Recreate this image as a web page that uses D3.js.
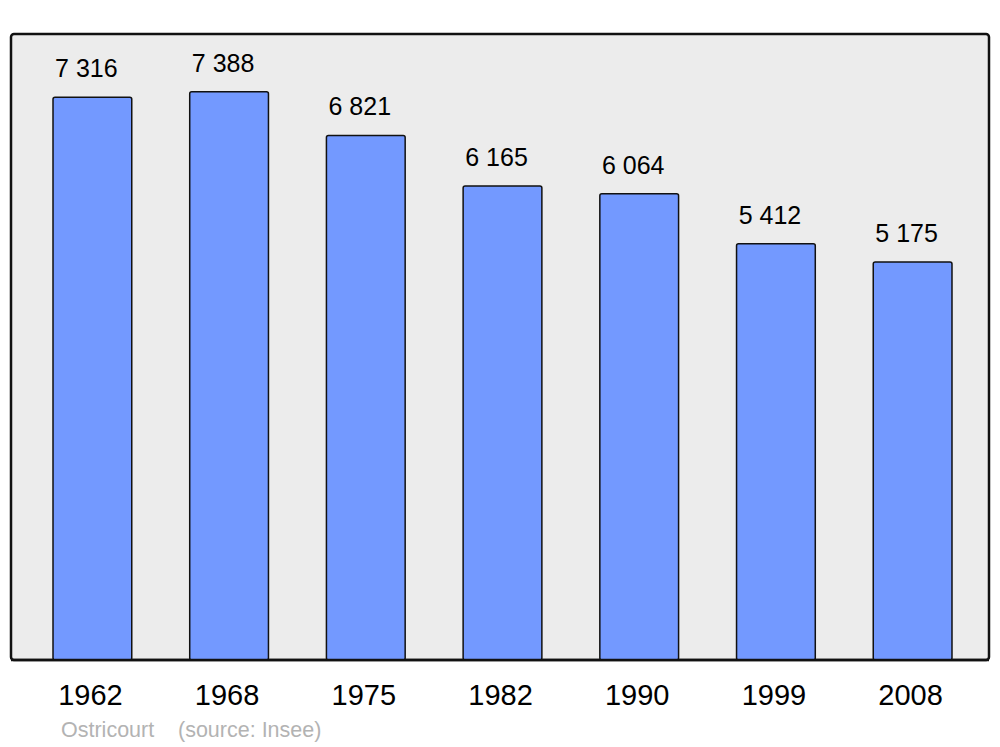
<!DOCTYPE html>
<html><head><meta charset="utf-8">
<script src="https://cdn.jsdelivr.net/npm/d3@7"></script>
<style>body{margin:0;background:#fff}svg{display:block}text{font-family:"Liberation Sans",Arial,sans-serif}</style>
</head><body>
<script>
const years = ["1962","1968","1975","1982","1990","1999","2008"];
const population = [7316, 7388, 6821, 6165, 6064, 5412, 5175];
const valueLabels = ["7 316","7 388","6 821","6 165","6 064","5 412","5 175"];
const caption = ["Ostricourt", "(source: Insee)"];

const W = 1000, H = 747;
const svg = d3.select("body").append("svg").attr("width", W).attr("height", H);

svg.append("rect").attr("x", 11).attr("y", 34).attr("width", 978).attr("height", 626)
  .attr("rx", 3).attr("fill", "#ececec").attr("stroke", "#111").attr("stroke-width", 2.5);

const x = d3.scaleBand().domain(years).range([12, 993]).paddingInner(0.424).paddingOuter(0.3);
const y = d3.scaleLinear().domain([0, 8140]).range([660, 34]);

const g = svg.append("g");
g.selectAll("rect.bar").data(years).join("rect").attr("class","bar")
  .attr("x", d => x(d)).attr("width", x.bandwidth())
  .attr("y", (d,i) => y(population[i])).attr("height", (d,i) => y(0) - y(population[i]))
  .attr("rx", 2).attr("fill", "#7399ff").attr("stroke", "#111").attr("stroke-width", 1.5);

g.selectAll("text.val").data(years).join("text").attr("class","val")
  .attr("x", d => x(d) + x.bandwidth()/2 - 6)
  .attr("y", (d,i) => y(population[i]) - 20)
  .attr("text-anchor", "middle").attr("font-size", 25).attr("fill", "#000")
  .text((d,i) => valueLabels[i]);

svg.append("line").attr("x1", 11).attr("x2", 989).attr("y1", 660).attr("y2", 660)
  .attr("stroke", "#111").attr("stroke-width", 2.5);

const xAxis = svg.append("g").attr("transform", "translate(0,660)")
  .call(d3.axisBottom(x).tickSize(0).tickPadding(0));
xAxis.select(".domain").remove();
xAxis.selectAll("text").attr("font-size", 29).attr("fill", "#000")
  .attr("font-family", '"Liberation Sans",Arial,sans-serif')
  .attr("dy", null).attr("y", 45).attr("dx", -2);

svg.append("text").attr("x", 61).attr("y", 737).attr("font-size", 21.5).attr("fill", "#b3b3b3").text(caption[0]);
svg.append("text").attr("x", 178).attr("y", 737).attr("font-size", 21.5).attr("fill", "#b3b3b3").text(caption[1]);
</script>
</body></html>
